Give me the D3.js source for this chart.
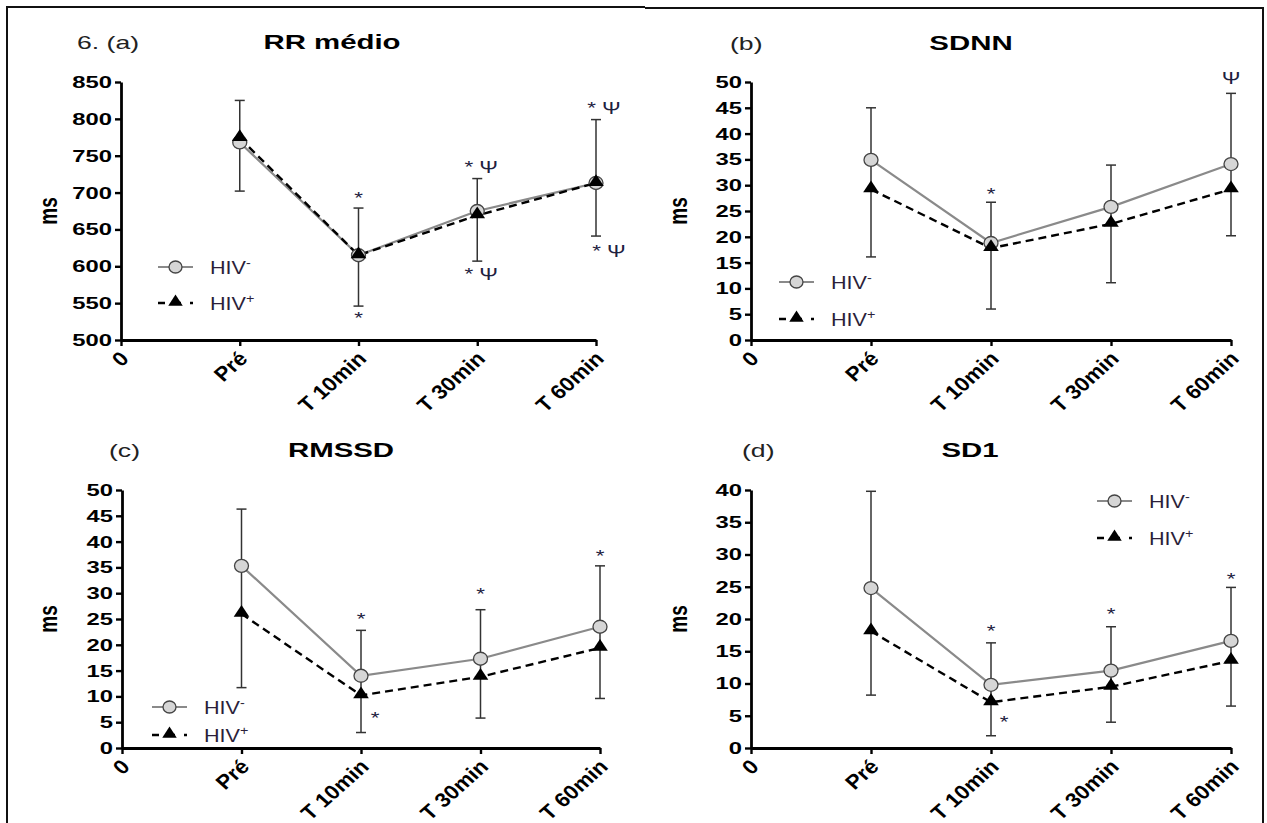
<!DOCTYPE html>
<html>
<head>
<meta charset="utf-8">
<script src="https://cdn.jsdelivr.net/npm/d3@7"></script>
<style>
  body { margin: 0; background: #fff; }
  text { font-family: "Liberation Sans", Arial, sans-serif; }
</style>
</head>
<body>
<svg id="chart" width="1267" height="823"></svg>
<script>
'use strict';

// categories / tick labels
const categories = ['Pré', 'T 10min', 'T 30min', 'T 60min'];
const xTickLabels = ['0'].concat(categories);

// (a) RR médio
const rrNeg = [768, 615, 675, 713];
const rrPos = [774, 615, 669, 713];
const rrBarLo = [702, 546, 607, 641];
const rrBarHi = [825, 679, 719, 799];
const rrTicks = [500, 550, 600, 650, 700, 750, 800, 850];
const rrMarks = [
  { cat: 'T 10min', v: 694, text: '*' },
  { cat: 'T 10min', v: 531, text: '*' },
  { cat: 'T 30min', v: 736, text: '* Ψ', dx: 4 },
  { cat: 'T 30min', v: 591, text: '* Ψ', dx: 4 },
  { cat: 'T 60min', v: 817, text: '* Ψ', dx: 8 },
  { cat: 'T 60min', v: 622, text: '* Ψ', dx: 13 }
];

// (b) SDNN
const sdnnNeg = [34.9, 18.8, 25.8, 34.1];
const sdnnPos = [29.2, 17.8, 22.5, 29.2];
const sdnnBarLo = [16.1, 6.0, 11.1, 20.2];
const sdnnBarHi = [45.0, 26.7, 33.9, 47.8];
const sdnnTicks = [0, 5, 10, 15, 20, 25, 30, 35, 40, 45, 50];
const sdnnMarks = [
  { cat: 'T 10min', v: 28.5, text: '*' },
  { cat: 'T 60min', v: 51, text: 'Ψ' }
];

// (c) RMSSD
const rmssdNeg = [35.3, 14.0, 17.3, 23.5];
const rmssdPos = [26.0, 10.2, 13.8, 19.4];
const rmssdBarLo = [11.7, 3.0, 5.8, 9.6];
const rmssdBarHi = [46.3, 22.8, 26.8, 35.3];
const rmssdTicks = [0, 5, 10, 15, 20, 25, 30, 35, 40, 45, 50];
const rmssdMarks = [
  { cat: 'T 10min', v: 25.2, text: '*' },
  { cat: 'T 10min', v: 6.0, text: '*', dx: 14 },
  { cat: 'T 30min', v: 30.0, text: '*' },
  { cat: 'T 60min', v: 37.4, text: '*' }
];

// (d) SD1
const sd1Neg = [24.8, 9.8, 12.0, 16.6];
const sd1Pos = [18.1, 7.1, 9.5, 13.5];
const sd1BarLo = [8.2, 1.9, 4.0, 6.5];
const sd1BarHi = [39.8, 16.3, 18.8, 24.9];
const sd1Ticks = [0, 5, 10, 15, 20, 25, 30, 35, 40];
const sd1Marks = [
  { cat: 'T 10min', v: 18.4, text: '*' },
  { cat: 'T 10min', v: 4.2, text: '*', dx: 13 },
  { cat: 'T 30min', v: 20.9, text: '*' },
  { cat: 'T 60min', v: 26.4, text: '*' }
];

const svg = d3.select('#chart');
const grayLine = '#8a8a8a';
const SX = 1.4; // horizontal text stretch seen in the figure

// outer frame
svg.append('path')
  .attr('d', 'M7,823 V7 H645 M645,8 H1263 V823')
  .attr('fill', 'none')
  .attr('stroke', '#111')
  .attr('stroke-width', 2);

const defs = svg.append('defs');
defs.append('clipPath').attr('id', 'clipTop')
  .append('rect').attr('x', 0).attr('y', 0).attr('width', 1267).attr('height', 410);
defs.append('clipPath').attr('id', 'clipBottom')
  .append('rect').attr('x', 0).attr('y', 410).attr('width', 1267).attr('height', 413);

function stretchedText(g, x, y) {
  return g.append('text').attr('transform', 'translate(' + x + ',' + y + ') scale(' + SX + ',1)');
}

function drawLegend(g, lx, ly, gap) {
  const w = 35;
  let leg = g.append('g').attr('transform', 'translate(' + lx + ',' + ly + ')');
  leg.append('line').attr('x1', 0).attr('x2', w).attr('y1', 0).attr('y2', 0)
    .attr('stroke', grayLine).attr('stroke-width', 2.2);
  leg.append('ellipse').attr('cx', w / 2).attr('cy', 0).attr('rx', 6.5).attr('ry', 6)
    .attr('fill', '#d6d6d6').attr('stroke', '#444').attr('stroke-width', 1.3);
  leg.append('line').attr('x1', 0).attr('x2', w).attr('y1', gap).attr('y2', gap)
    .attr('stroke', '#000').attr('stroke-width', 2.4).attr('stroke-dasharray', '7,9');
  leg.append('path')
    .attr('d', d3.symbol().type(d3.symbolTriangle).size(75))
    .attr('transform', 'translate(' + (w / 2) + ',' + (gap - 1) + ') scale(1.1,1)')
    .attr('fill', '#000');

  const labels = ['-', '+'];
  labels.forEach(function(sup, i) {
    let t = leg.append('text')
      .attr('transform', 'translate(' + (w + 17) + ',' + (i * gap + 7) + ') scale(1.2,1)')
      .attr('font-size', '18px')
      .attr('fill', '#2c1f3a');
    t.append('tspan').text('HIV');
    t.append('tspan').attr('font-size', '12px').attr('dy', '-7').text(sup);
  });
}

function drawPanel(p) {
  const g = svg.append('g').attr('clip-path', 'url(#' + p.clip + ')');

  const x = d3.scalePoint().domain(xTickLabels).range([p.left, p.right]);
  const y = d3.scaleLinear().domain(p.domain).range([p.bottom, p.top]);

  // error bars
  const bars = g.append('g').attr('stroke', '#333').attr('stroke-width', 1.5);
  categories.forEach(function(c, i) {
    const cx = x(c);
    bars.append('line').attr('x1', cx).attr('x2', cx)
      .attr('y1', y(p.lo[i])).attr('y2', y(p.hi[i]));
    bars.append('line').attr('x1', cx - 5).attr('x2', cx + 5)
      .attr('y1', y(p.lo[i])).attr('y2', y(p.lo[i]));
    bars.append('line').attr('x1', cx - 5).attr('x2', cx + 5)
      .attr('y1', y(p.hi[i])).attr('y2', y(p.hi[i]));
  });

  const line = d3.line()
    .x(function(d, i) { return x(categories[i]); })
    .y(function(d) { return y(d); });

  g.append('path').datum(p.neg)
    .attr('d', line)
    .attr('fill', 'none')
    .attr('stroke', grayLine)
    .attr('stroke-width', 2.2);

  g.append('path').datum(p.pos)
    .attr('d', line)
    .attr('fill', 'none')
    .attr('stroke', '#000')
    .attr('stroke-width', 2.4)
    .attr('stroke-dasharray', '8,5');

  g.selectAll('.pt-neg').data(p.neg).enter().append('ellipse')
    .attr('cx', function(d, i) { return x(categories[i]); })
    .attr('cy', function(d) { return y(d); })
    .attr('rx', 7)
    .attr('ry', 6.5)
    .attr('fill', '#d6d6d6')
    .attr('stroke', '#444')
    .attr('stroke-width', 1.3);

  g.selectAll('.pt-pos').data(p.pos).enter().append('path')
    .attr('d', d3.symbol().type(d3.symbolTriangle).size(80))
    .attr('transform', function(d, i) {
      return 'translate(' + x(categories[i]) + ',' + (y(d) - 1) + ') scale(1.15,1)';
    })
    .attr('fill', '#000');

  // significance marks
  p.marks.forEach(function(d) {
    stretchedText(g, x(d.cat) + (d.dx || 0), y(d.v))
      .attr('dy', '0.45em')
      .attr('text-anchor', 'middle')
      .attr('font-family', '"Liberation Serif", serif')
      .attr('font-size', '16px')
      .attr('fill', '#1e2140')
      .attr('xml:space', 'preserve')
      .text(d.text);
  });

  // y axis
  const yAxis = g.append('g')
    .attr('transform', 'translate(' + p.left + ',0)')
    .call(d3.axisLeft(y).tickValues(p.ticks).tickSize(6).tickSizeOuter(0));
  yAxis.select('.domain').attr('stroke-width', 2.8);
  yAxis.selectAll('.tick line').attr('stroke-width', 2.4);
  yAxis.selectAll('.tick text')
    .attr('x', -6.5)
    .attr('transform', 'scale(' + SX + ',1)')
    .attr('font-family', '"Liberation Sans", Arial, sans-serif')
    .attr('font-size', '17px')
    .attr('font-weight', 'bold')
    .attr('fill', '#000');

  // x axis, labels turned 45 degrees
  const xAxis = g.append('g')
    .attr('transform', 'translate(0,' + p.bottom + ')')
    .call(d3.axisBottom(x).tickSize(6).tickSizeOuter(0));
  xAxis.select('.domain').attr('stroke-width', 2.8);
  xAxis.selectAll('.tick line').attr('stroke-width', 2.4);
  xAxis.selectAll('.tick text')
    .attr('font-family', '"Liberation Sans", Arial, sans-serif')
    .attr('font-size', '20px')
    .attr('font-weight', 'bold')
    .attr('fill', '#000')
    .attr('text-anchor', 'end')
    .attr('y', 0)
    .attr('dy', '0.35em')
    .attr('transform', 'translate(3,15) scale(1.12,1) rotate(-45)');

  // y label
  g.append('text')
    .attr('transform', 'translate(' + p.yLabelX + ',' + ((p.top + p.bottom) / 2) + ') scale(' + SX + ',1) rotate(-90)')
    .attr('text-anchor', 'middle')
    .attr('dy', '0.35em')
    .attr('font-size', '19px')
    .attr('font-weight', 'bold')
    .text('ms');

  // title and panel letter
  stretchedText(g, p.titleX, p.titleY)
    .attr('text-anchor', 'middle')
    .attr('font-size', '21px')
    .attr('font-weight', 'bold')
    .text(p.title);
  stretchedText(g, p.tagX, p.titleY)
    .attr('font-size', '19px')
    .attr('font-family', p.tagFont || '"Liberation Sans", Arial, sans-serif')
    .attr('fill', '#222')
    .text(p.tag);

  drawLegend(g, p.legX, p.legY, p.legGap);
}

drawPanel({
  clip: 'clipTop', left: 121, right: 596, top: 82, bottom: 340,
  domain: [500, 850], ticks: rrTicks,
  neg: rrNeg, pos: rrPos, lo: rrBarLo, hi: rrBarHi, marks: rrMarks,
  title: 'RR médio', titleX: 332, titleY: 49, tag: '6. (a)', tagX: 77,
  yLabelX: 48, legX: 158, legY: 267, legGap: 36
});

drawPanel({
  clip: 'clipTop', left: 751, right: 1231, top: 82, bottom: 340,
  domain: [0, 50], ticks: sdnnTicks,
  neg: sdnnNeg, pos: sdnnPos, lo: sdnnBarLo, hi: sdnnBarHi, marks: sdnnMarks,
  title: 'SDNN', titleX: 971, titleY: 50, tag: '(b)', tagX: 730,
  yLabelX: 678, legX: 779, legY: 282, legGap: 37
});

drawPanel({
  clip: 'clipBottom', left: 122, right: 600, top: 490, bottom: 748,
  domain: [0, 50], ticks: rmssdTicks,
  neg: rmssdNeg, pos: rmssdPos, lo: rmssdBarLo, hi: rmssdBarHi, marks: rmssdMarks,
  title: 'RMSSD', titleX: 341, titleY: 457, tag: '(c)', tagX: 109, tagFont: '"Liberation Serif", serif',
  yLabelX: 48, legX: 152, legY: 707, legGap: 28
});

drawPanel({
  clip: 'clipBottom', left: 751, right: 1231, top: 490, bottom: 748,
  domain: [0, 40], ticks: sd1Ticks,
  neg: sd1Neg, pos: sd1Pos, lo: sd1BarLo, hi: sd1BarHi, marks: sd1Marks,
  title: 'SD1', titleX: 970, titleY: 457, tag: '(d)', tagX: 742,
  yLabelX: 678, legX: 1097, legY: 501, legGap: 37
});
</script>
</body>
</html>
